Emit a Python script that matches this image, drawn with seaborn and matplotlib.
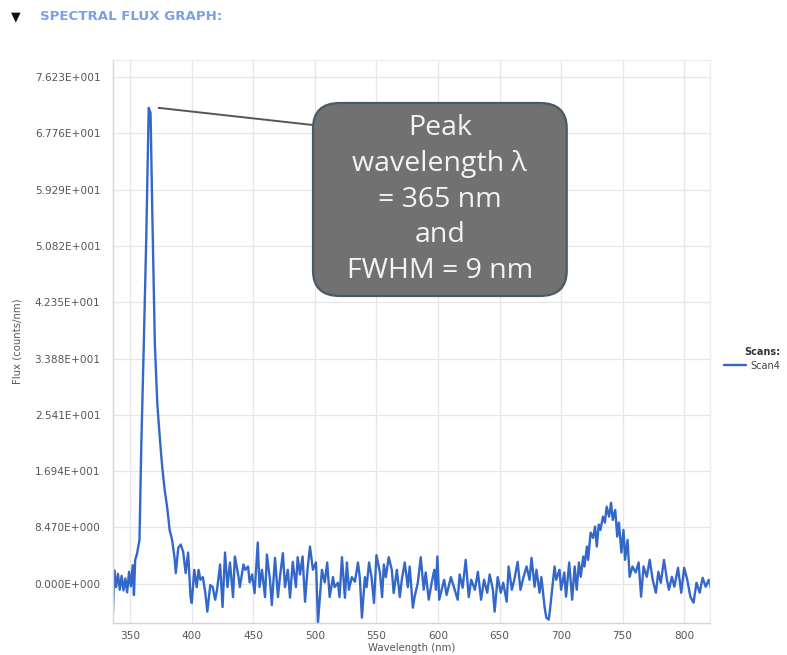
import numpy as np
import pandas as pd
import matplotlib
matplotlib.use("Agg")
import matplotlib.pyplot as plt
from matplotlib.patches import FancyBboxPatch
import seaborn as sns

# Scan4 spectral flux, wavelength in nm and flux in counts/nm
wavelength_nm = [
    336.0, 337.0, 338.5, 340.0, 341.5, 343.0, 344.5, 346.0, 347.5, 349.0,
    350.5, 352.0, 353.0, 354.0, 355.5, 357.5, 359.0, 361.0, 363.0, 365.0,
    366.5, 368.0, 370.0, 372.0, 374.0, 376.0, 378.0, 380.0, 382.0, 384.0,
    386.0, 387.0, 389.0, 391.0, 393.0, 395.0, 397.0, 399.0, 400.0, 402.0,
    404.0, 405.5, 407.0, 409.0, 411.0, 412.6, 415.0, 417.0, 419.0, 420.5,
    423.0, 425.0, 427.0, 429.0, 431.0, 433.5, 435.0, 438.0, 439.0, 442.0,
    443.5, 445.7, 447.0, 449.0, 451.0, 453.6, 455.0, 457.0, 459.5, 461.0,
    463.5, 465.0, 467.6, 470.0, 471.6, 474.0, 475.7, 478.0, 479.8, 482.0,
    484.6, 486.0, 487.9, 490.0, 492.0, 494.0, 496.0, 498.4, 500.9, 502.5,
    505.7, 508.0, 510.0, 512.0, 514.7, 516.0, 518.7, 520.0, 522.0, 524.4,
    526.0, 527.6, 530.0, 532.5, 535.0, 536.5, 538.2, 540.6, 542.0, 544.0,
    546.0, 548.0, 550.0, 552.8, 554.6, 556.0, 557.6, 560.0, 562.5, 564.0,
    566.6, 569.0, 570.6, 573.0, 575.5, 577.0, 579.6, 581.0, 583.6, 586.0,
    588.4, 590.0, 592.5, 595.0, 597.0, 598.3, 599.5, 601.0, 605.0, 607.0,
    610.5, 613.6, 616.0, 617.6, 620.0, 622.5, 625.0, 627.0, 630.0, 632.4,
    635.0, 637.4, 640.0, 642.0, 644.6, 646.0, 648.5, 651.0, 653.0, 655.8,
    657.4, 660.0, 662.0, 664.7, 667.0, 669.5, 672.0, 674.4, 676.0, 678.5,
    680.0, 682.5, 684.0, 686.6, 688.0, 690.0, 691.0, 693.0, 694.7, 696.0,
    698.7, 700.0, 702.6, 704.0, 706.6, 709.0, 711.0, 712.7, 714.5, 716.0,
    718.0, 719.0, 721.0, 722.0, 724.0, 726.0, 727.6, 729.0, 730.6, 732.0,
    734.0, 735.6, 737.0, 739.0, 740.6, 742.0, 744.0, 745.6, 747.0, 749.0,
    750.7, 752.0, 754.0, 755.7, 758.0, 760.6, 763.0, 765.0, 767.0, 769.6,
    772.0, 774.4, 777.0, 779.0, 781.0, 783.6, 786.0, 787.6, 790.0, 792.0,
    795.0, 797.6, 800.0, 802.5, 805.0, 807.6, 810.0, 812.6, 815.0, 817.5,
    820.0, 822.0,
]
flux_counts = [
    -4.2, 2.0, -0.5, 1.5, -0.9, 1.2, -1.0, 0.8, -1.3, 1.8,
    -0.4, 2.8, -1.7, 3.6, 4.5, 6.6, 21.0, 36.0, 52.0, 71.6,
    70.8, 55.0, 36.0, 27.0, 22.0, 17.5, 14.1, 11.5, 8.1, 6.6,
    3.9, 1.6, 5.4, 5.9, 4.8, 1.6, 4.7, -2.0, -2.9, 2.1,
    -0.5, 2.1, 0.6, 1.0, -1.4, -4.2, -0.2, -0.5, -2.4, -0.9,
    2.9, -3.5, 4.7, -0.5, 3.2, -2.0, 4.1, 1.0, -0.5, 2.9,
    2.1, 2.6, 0.2, 1.4, -1.4, 6.2, -0.5, 2.1, -2.0, 4.4,
    0.6, -3.2, 3.9, -2.0, 1.0, 4.6, -0.5, 2.1, -2.1, 3.3,
    -0.5, 4.0, 1.4, 4.1, -2.7, 2.1, 5.6, 2.1, 3.2, -5.9,
    2.1, 0.2, 3.2, -2.0, 1.0, -0.5, 0.15, -2.0, 4.0, -2.1,
    3.2, -0.9, 1.0, 0.3, 3.2, 0.9, -5.1, 1.0, -0.5, 3.2,
    1.0, -2.9, 4.3, 1.7, -2.0, 2.9, 1.0, 4.0, 2.1, -1.4,
    2.1, -2.0, 0.6, 3.2, -0.5, 2.6, -3.6, -2.0, 0.15, 4.0,
    -0.9, 1.7, -2.4, 0.3, 2.1, -0.9, 4.1, -2.4, 0.6, -1.7,
    1.0, -0.9, -2.4, 1.4, -0.6, 3.6, -2.0, 0.6, -0.9, 1.8,
    -2.4, 0.6, -1.35, 1.4, -0.9, -4.2, 1.0, -1.35, 0.15, -2.7,
    2.6, -0.9, 0.6, 3.3, -0.9, 1.0, 2.6, 0.6, 3.9, -0.45,
    2.1, -1.35, 1.0, -3.5, -5.1, -5.4, -3.9, -0.45, 2.6, 0.6,
    2.1, -0.9, 1.7, -1.95, 3.2, -2.4, 2.6, -0.9, 3.2, 1.05,
    4.1, 2.6, 5.6, 3.6, 7.7, 6.9, 8.6, 5.6, 8.9, 8.1,
    10.1, 9.2, 11.6, 10.1, 12.2, 9.6, 11.1, 7.1, 9.2, 4.7,
    8.1, 3.6, 6.6, 1.05, 2.6, 1.7, 3.2, -1.95, 2.6, 1.05,
    3.6, 0.6, -1.35, 1.8, 0.15, 3.6, 0.6, -0.9, 1.05, -0.45,
    2.4, -1.35, 2.4, 0.6, -1.95, -2.85, 0.15, -1.35, 0.9, -0.45,
    0.6, -0.9,
]

y_tick_values = [0.0, 8.47, 16.94, 25.41, 33.88, 42.35, 50.82, 59.29, 67.76, 76.23]
x_tick_values = [350, 400, 450, 500, 550, 600, 650, 700, 750, 800]

peak_wavelength_nm = 365
fwhm_nm = 9
series_name = "Scan4"

df = pd.DataFrame({"Wavelength (nm)": wavelength_nm, "Flux (counts/nm)": flux_counts})

sns.set_theme(style="whitegrid")
plt.rcParams["font.family"] = ["DejaVu Sans"]

fig = plt.figure(figsize=(7.87, 6.55), dpi=100)
ax = fig.add_axes([0.1436, 0.0489, 0.7586, 0.8595])

line_color = "#3468c8"
sns.lineplot(data=df, x="Wavelength (nm)", y="Flux (counts/nm)", ax=ax,
             color=line_color, linewidth=1.7, sort=False, estimator=None,
             label=series_name)

ax.set_xlim(336, 821)
ax.set_ylim(-5.9, 78.8)
ax.set_xticks(x_tick_values)
ax.set_yticks(y_tick_values)


def sci_label(v, pos=None):
    if v == 0:
        return "0.000E+000"
    e = int(np.floor(np.log10(abs(v))))
    m = v / 10 ** e
    sign = "+" if e >= 0 else "-"
    return f"{m:.3f}E{sign}{abs(e):03d}"


ax.yaxis.set_major_formatter(plt.FuncFormatter(sci_label))

ax.grid(True, color="#e6e6e6", linewidth=0.9)
for side in ["top", "right"]:
    ax.spines[side].set_color("#eeeeee")
for side in ["left", "bottom"]:
    ax.spines[side].set_color("#d4d4d4")
for s in ax.spines.values():
    s.set_linewidth(1.0)

ax.tick_params(axis="y", length=4, color="#e0e0e0", pad=5, labelsize=7.6, labelcolor="#555555")
ax.tick_params(axis="x", length=0, pad=6, labelsize=7.6, labelcolor="#555555")

ax.set_xlabel("Wavelength (nm)", fontsize=7.3, color="#555555")
ax.set_ylabel("Flux (counts/nm)", fontsize=7.3, color="#555555")
ax.xaxis.set_label_coords(0.5, -0.035)
ax.yaxis.set_label_coords(-0.152, 0.5)

# legend on the right, outside the plot area
leg = ax.legend(title="Scans:", loc="upper left", bbox_to_anchor=(724 / 787, 1 - 347 / 655),
                bbox_transform=fig.transFigure, frameon=False, fontsize=7,
                title_fontproperties={"weight": "bold", "size": 7},
                handlelength=2.3, handletextpad=0.4, alignment="right",
                borderaxespad=0, borderpad=0, labelspacing=0.4)
leg.get_title().set_color("#333333")
for t in leg.get_texts():
    t.set_color("#444444")

# header
fig.text(11 / 787, 1 - 17 / 655, "\u25bc", fontsize=9, color="#111111", va="center", ha="left")
fig.text(40 / 787, 1 - 17 / 655, "SPECTRAL FLUX GRAPH:", fontsize=9.6, fontweight="bold",
         color="#7d9fe3", va="center", ha="left")

# callout box for the peak
box_x0, box_x1 = 0.335, 0.760
box_y0, box_y1 = 0.5808, 0.9236
box = FancyBboxPatch((box_x0, box_y0), box_x1 - box_x0, box_y1 - box_y0,
                     boxstyle="round,pad=0,rounding_size=0.045", transform=ax.transAxes,
                     facecolor="#717171", edgecolor="#4b5967", linewidth=1.6, zorder=5)
ax.add_patch(box)
peak_text = f"Peak\nwavelength \u03bb\n= {peak_wavelength_nm} nm\nand\nFWHM = {fwhm_nm} nm"
ax.text((box_x0 + box_x1) / 2, (box_y0 + box_y1) / 2, peak_text, transform=ax.transAxes,
        ha="center", va="center", fontsize=20.5, color="#f4f4f4", family=["Open Sans", "DejaVu Sans"],
        linespacing=1.36, zorder=6)
peak_flux = max(flux_counts)
ax.annotate("", xy=(peak_wavelength_nm + 8, peak_flux), xycoords="data",
            xytext=(box_x0, 0.8845), textcoords="axes fraction",
            arrowprops=dict(arrowstyle="-", color="#555555", linewidth=1.4,
                            shrinkA=0, shrinkB=0), zorder=4)

fig.savefig("out.png", dpi=100)
